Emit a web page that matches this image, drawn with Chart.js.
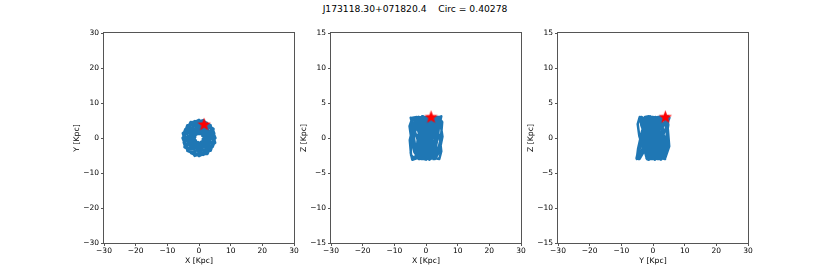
<!DOCTYPE html>
<html>
<head>
<meta charset="utf-8">
<script src="https://cdn.jsdelivr.net/npm/chart.js@4"></script>
<style>
  html, body { margin: 0; padding: 0; background: #fff; }
  body { width: 830px; height: 277px; position: relative; overflow: hidden; font-family: "DejaVu Sans", sans-serif; }
  #title { position: absolute; left: 0; top: 3px; width: 830px; text-align: center; font-size: 9.2px; color: #000; white-space: pre; }
  .panel { position: absolute; top: 0; width: 242px; height: 277px; }
</style>
</head>
<body>
<div id="title">J173118.30+071820.4    Circ = 0.40278</div>
<div class="panel" style="left:64px"><canvas id="xyChart" width="242" height="277"></canvas></div>
<div class="panel" style="left:291px"><canvas id="xzChart" width="242" height="277"></canvas></div>
<div class="panel" style="left:518px"><canvas id="yzChart" width="242" height="277"></canvas></div>
<script>
// orbit samples (kpc)
const orbitX = [
    1.3, 1.93, 2.68, 2.97, 2.5, 1.30, 0, -0.80, -1.0, -0.92, -1.73, -2.99,
    -4.2, -4.83, -4.33, -2.97, -1.55, -0.52, 0, 0.52, 1.55, 2.97, 4.33, 4.83,
    4.2, 2.99, 1.73, 0.92, 1.0, 0.80, 0, -1.30, -2.5, -2.97, -2.68, -1.93,
    -1.3, -1.93, -2.68, -2.97, -2.5, -1.30, 0, 0.80, 1.0, 0.92, 1.73, 2.99,
    4.2, 4.83, 4.33, 2.97, 1.55, 0.52, 0, -0.52, -1.55, -2.97, -4.33, -4.83,
    -4.2, -2.99, -1.73, -0.92, -1.0, -0.80, 0, 1.30, 2.5, 2.97, 2.68, 1.93,
    2.2, 3.19, 3.81, 3.68, 2.4, 1.01, 0, -0.47, -0.6, -1.56, -2.86, -4.25,
    -5.2, -4.64, -3.38, -2.05, -0.9, -0.31, 0, 0.85, 2.2, 3.68, 4.16, 3.77,
    2.9, 1.74, 1.04, 1.56, 1.65, 1.14, 0, -1.24, -1.95, -2.05, -1.56, -1.16,
    -2.2, -3.19, -3.81, -3.68, -2.4, -1.01, 0, 0.47, 0.6, 1.56, 2.86, 4.25,
    5.2, 4.64, 3.38, 2.05, 0.9, 0.31, 0, -0.85, -2.2, -3.68, -4.16, -3.77,
    -2.9, -1.74, -1.04, -1.56, -1.65, -1.14, 0, 1.24, 1.95, 2.05, 1.56, 1.16,
    3.5, 4.35, 4.59, 3.32, 1.85, 0.67, 0, -0.36, -1.15, -2.47, -3.90, -5.12,
    -4.7, -3.57, -2.25, -1.13, -0.7, -0.60, 0, 1.17, 2.65, 3.32, 3.20, 2.51,
    1.6, 1.35, 1.99, 2.47, 2.25, 1.37, 0, -0.96, -1.3, -1.13, -1.21, -2.22,
    -3.5, -4.35, -4.59, -3.32, -1.85, -0.67, 0, 0.36, 1.15, 2.47, 3.90, 5.12,
    4.7, 3.57, 2.25, 1.13, 0.7, 0.60, 0, -1.17, -2.65, -3.32, -3.20, -2.51,
    -1.6, -1.35, -1.99, -2.47, -2.25, -1.37, 0, 0.96, 1.3, 1.13, 1.21, 2.22
];
const orbitY = [
    0, 0.52, 1.55, 2.97, 4.33, 4.83, 4.2, 2.99, 1.73, 0.92, 1.0, 0.80,
    0, -1.30, -2.5, -2.97, -2.68, -1.93, -1.3, -1.93, -2.68, -2.97, -2.5, -1.30,
    0, 0.80, 1.0, 0.92, 1.73, 2.99, 4.2, 4.83, 4.33, 2.97, 1.55, 0.52,
    0, -0.52, -1.55, -2.97, -4.33, -4.83, -4.2, -2.99, -1.73, -0.92, -1.0, -0.80,
    0, 1.30, 2.5, 2.97, 2.68, 1.93, 1.3, 1.93, 2.68, 2.97, 2.5, 1.30,
    0, -0.80, -1.0, -0.92, -1.73, -2.99, -4.2, -4.83, -4.33, -2.97, -1.55, -0.52,
    0, 0.85, 2.2, 3.68, 4.16, 3.77, 2.9, 1.74, 1.04, 1.56, 1.65, 1.14,
    0, -1.24, -1.95, -2.05, -1.56, -1.16, -2.2, -3.19, -3.81, -3.68, -2.4, -1.01,
    0, 0.47, 0.6, 1.56, 2.86, 4.25, 5.2, 4.64, 3.38, 2.05, 0.9, 0.31,
    0, -0.85, -2.2, -3.68, -4.16, -3.77, -2.9, -1.74, -1.04, -1.56, -1.65, -1.14,
    0, 1.24, 1.95, 2.05, 1.56, 1.16, 2.2, 3.19, 3.81, 3.68, 2.4, 1.01,
    0, -0.47, -0.6, -1.56, -2.86, -4.25, -5.2, -4.64, -3.38, -2.05, -0.9, -0.31,
    0, 1.17, 2.65, 3.32, 3.20, 2.51, 1.6, 1.35, 1.99, 2.47, 2.25, 1.37,
    0, -0.96, -1.3, -1.13, -1.21, -2.22, -3.5, -4.35, -4.59, -3.32, -1.85, -0.67,
    0, 0.36, 1.15, 2.47, 3.90, 5.12, 4.7, 3.57, 2.25, 1.13, 0.7, 0.60,
    0, -1.17, -2.65, -3.32, -3.20, -2.51, -1.6, -1.35, -1.99, -2.47, -2.25, -1.37,
    0, 0.96, 1.3, 1.13, 1.21, 2.22, 3.5, 4.35, 4.59, 3.32, 1.85, 0.67,
    0, -0.36, -1.15, -2.47, -3.90, -5.12, -4.7, -3.57, -2.25, -1.13, -0.7, -0.60
];
const orbitZ = [
    0.2, 1.9, 2.9, 3.0, 1.9, 0.1, -1.8, -2.9, -3.0, -2.0,
    0.0, 1.8, 2.8, 2.9, 2.0, 0.2, -1.7, -3.0, -3.1, -1.9,
    -0.1, 1.7, 3.0, 3.1, 1.8, 0.0, -1.9, -2.8, -2.9, -1.8,
    0.1, 1.9, 2.9, 2.9, 1.7, -0.1, -2.0, -3.0, -2.9, -1.7,
    0.3, 2.0, 3.0, 2.8, 1.6, -0.2, -1.9, -2.9, -3.0, -1.9,
    0.1, 1.8, 2.9, 3.0, 1.9, 0.1, -1.8, -2.9, -3.1, -2.1,
    -0.2, 1.6, 2.8, 3.1, 2.1, 0.3, -1.6, -2.8, -3.0, -2.0,
    0.0, 1.8, 2.9, 3.0, 1.8, 0.0, -1.8, -3.0, -2.9, -1.8,
    0.2, 2.0, 3.0, 2.9, 1.7, -0.1, -1.9, -2.9, -3.0, -1.9,
    0.1, 1.9, 2.8, 3.0, 1.9, 0.2, -1.7, -2.9, -3.1, -2.0,
    -0.1, 1.7, 2.9, 3.1, 2.0, 0.1, -1.8, -3.0, -2.9, -1.8,
    0.0, 1.8, 3.0, 2.9, 1.8, 0.0, -1.9, -2.9, -3.0, -1.9,
    0.2, 1.9, 2.9, 3.0, 1.9, 0.1, -1.8, -2.8, -3.0, -2.0,
    0.1, 1.8, 2.9, 2.9, 1.8, 0.0, -1.9, -3.0, -2.9, -1.8,
    0.0, 1.7, 2.8, 3.0,
    1.3, 2.8, 2.6, 0.6, -1.6, -3.0, -2.3,
    -0.4, 1.9, 3.0, 2.0, -0.3, -2.5, -2.9,
    -1.4, 0.9, 2.7, 2.8, 0.9, -1.5, -3.0,
    -2.2, -0.2, 2.1, 3.0, 1.7, -0.6, -2.7,
    -2.8, -1.2, 1.2, 2.9, 2.4, 0.4, -1.9,
    -3.0, -2.1, 0.2, 2.4, 2.9, 1.4, -1.0,
    -2.7, -2.8, -0.9, 1.5, 3.0, 2.3, 0.0,
    -2.2, -3.0, -1.8, 0.6, 2.6, 2.8, 1.0,
    -1.3, -2.9, -2.6, -0.4, 1.8, 3.0, 1.9,
    -0.3, -2.4, -3.0, -1.5, 0.8, 2.7, 2.6,
    0.8, -1.5
];

// current position of the star
const starX = 1.6;
const starY = 3.9;
const starZ = 3.0;

const xyTicks = [-30, -20, -10, 0, 10, 20, 30];
const zTicks = [-15, -10, -5, 0, 5, 10, 15];

const orbitColor = '#1f77b4';
const axisColor = '#555';
const fontFamily = '"DejaVu Sans", sans-serif';

// filled red star marker
function makeStar() {
    const c = document.createElement('canvas');
    c.width = 15;
    c.height = 15;
    const g = c.getContext('2d');
    g.fillStyle = '#ff0000';
    g.beginPath();
    for (let i = 0; i < 10; i++) {
        const r = i % 2 === 0 ? 7 : 2.9;
        const a = -Math.PI / 2 + i * Math.PI / 5;
        const px = 7.5 + r * Math.cos(a);
        const py = 7.8 + r * Math.sin(a);
        if (i === 0) g.moveTo(px, py); else g.lineTo(px, py);
    }
    g.closePath();
    g.fill();
    return c;
}
const starImg = makeStar();

function minusLabel(v) {
    return v < 0 ? '\u2212' + Math.abs(v) : String(v);
}

const framePlugin = {
    id: 'frame',
    afterDraw(chart) {
        const a = chart.chartArea;
        const ctx = chart.ctx;
        ctx.save();
        ctx.strokeStyle = axisColor;
        ctx.lineWidth = 1;
        ctx.strokeRect(Math.round(a.left) - 0.5, Math.round(a.top) - 0.5,
            Math.round(a.right - a.left) + 1, Math.round(a.bottom - a.top) + 1);
        ctx.restore();
    }
};

function axis(ticks, label, horizontal) {
    return {
        type: 'linear',
        min: ticks[0],
        max: ticks[ticks.length - 1],
        afterBuildTicks: function (scale) {
            scale.ticks = ticks.map(v => ({ value: v }));
        },
        afterFit: function (scale) {
            if (horizontal) scale.height = 34; else scale.width = 40;
        },
        border: { display: false },
        grid: {
            drawOnChartArea: false,
            drawTicks: true,
            tickLength: 3,
            color: axisColor,
            lineWidth: 1
        },
        ticks: {
            color: '#000',
            padding: horizontal ? 1 : 2,
            maxRotation: 0,
            autoSkip: false,
            font: { family: fontFamily, size: 7.5 },
            callback: minusLabel
        },
        title: {
            display: true,
            text: label,
            color: '#000',
            font: { family: fontFamily, size: 7.7 },
            padding: horizontal ? { top: 0, bottom: 11 } : { top: 8, bottom: 0 }
        }
    };
}

function makePanel(id, xs, ys, sx, sy, xTicks, yTicks, xLabel, yLabel) {
    const points = xs.map((v, i) => ({ x: v, y: ys[i] }));
    new Chart(document.getElementById(id), {
        type: 'scatter',
        data: {
            datasets: [{
                data: [{ x: sx, y: sy }],
                pointStyle: starImg,
                pointRadius: 7,
                showLine: false
            }, {
                data: points,
                showLine: true,
                borderColor: orbitColor,
                borderWidth: 2.5,
                borderJoinStyle: 'round',
                pointRadius: 0,
                tension: 0
            }]
        },
        options: {
            responsive: false,
            animation: false,
            events: [],
            layout: { padding: { top: 33, right: 12, left: 0, bottom: 0 } },
            plugins: {
                legend: { display: false },
                tooltip: { enabled: false }
            },
            scales: {
                x: axis(xTicks, xLabel, true),
                y: axis(yTicks, yLabel, false)
            }
        },
        plugins: [framePlugin]
    });
}

makePanel('xyChart', orbitX, orbitY, starX, starY, xyTicks, xyTicks, 'X [Kpc]', 'Y [Kpc]');
makePanel('xzChart', orbitX, orbitZ, starX, starZ, xyTicks, zTicks, 'X [Kpc]', 'Z [Kpc]');
makePanel('yzChart', orbitY, orbitZ, starY, starZ, xyTicks, zTicks, 'Y [Kpc]', 'Z [Kpc]');
</script>
</body>
</html>
